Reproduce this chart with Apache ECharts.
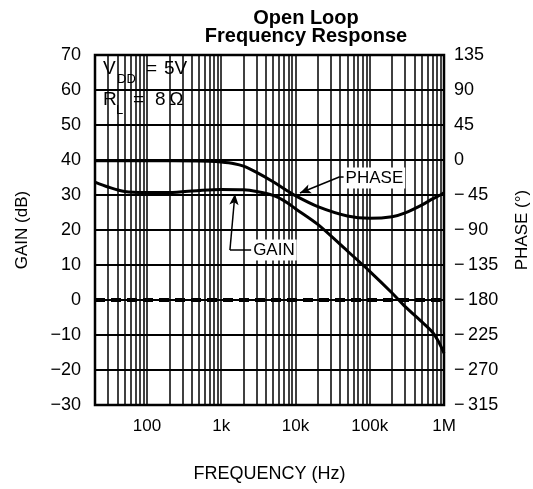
<!DOCTYPE html>
<html>
<head>
<meta charset="utf-8">
<script src="https://cdn.jsdelivr.net/npm/echarts@6/dist/echarts.min.js"></script>
<style>
  html, body { margin: 0; padding: 0; background: #fff; }
  #chart { width: 533px; height: 489px; }
</style>
</head>
<body>
<div id="chart"></div>
<script>
// gain curve (Hz / dB, left axis)
const gainFreqs = [20, 30, 50, 100, 200, 500, 1000, 2000, 3000, 5000, 7000, 10000, 20000, 50000, 100000, 200000, 300000, 500000, 700000, 850000, 1000000]
const gainDb = [33.7, 32.3, 31.0, 30.7, 30.7, 31.3, 31.6, 31.5, 31.0, 29.9, 28.4, 26.1, 21.6, 14.0, 8.2, 2.0, -1.9, -6.2, -9.2, -12.0, -15.2]
// phase curve (Hz / degrees, right axis)
const phaseFreqs = [20, 100, 500, 700, 1000, 1500, 2000, 3000, 5000, 7000, 10000, 20000, 50000, 100000, 200000, 300000, 500000, 700000, 850000, 1000000]
const phaseDeg = [-1, -1, -1.3, -1.6, -2.6, -4.8, -8, -16, -28, -37, -46, -60, -72, -75, -73, -68, -58, -50, -46, -42]

// vertical lines of the log paper
const gridFreqs = []
;[10, 100, 1000, 10000, 100000].forEach((d) => {
  for (let m = 1; m <= 9; m++) {
    const f = d * m
    if (f > 20 && f < 1000000) gridFreqs.push(f)
  }
})
const xTickLabels = { 100: '100', 1000: '1k', 10000: '10k', 100000: '100k', 1000000: '1M' }

const FONT = 'Liberation Sans'
const minusLeft = (v) => (v < 0 ? '\u2212' + -v : String(v))
const minusRight = (v) => (v < 0 ? '\u2212\u2009' + -v : String(v))

const chart = echarts.init(document.getElementById('chart'))

const annoLabel = {
  show: true,
  position: 'inside',
  fontFamily: FONT,
  fontSize: 17,
  color: '#000',
  backgroundColor: '#fff',
  padding: [2, 2]
}

const options = {
  animation: false,
  backgroundColor: '#fff',
  title: {
    text: 'Open Loop\nFrequency Response',
    left: 301,
    top: 4,
    textAlign: 'center',
    textStyle: {
      fontFamily: FONT,
      fontSize: 20,
      fontWeight: 'bold',
      lineHeight: 18,
      color: '#000'
    }
  },
  grid: {
    left: 95,
    right: 89,
    top: 55,
    bottom: 84,
    outerBoundsMode: 'none',
    containLabel: false,
    show: true,
    borderColor: '#000',
    borderWidth: 2.5,
    backgroundColor: 'transparent'
  },
  xAxis: {
    type: 'log',
    logBase: 10,
    min: 20,
    max: 1000000,
    name: 'FREQUENCY (Hz)',
    nameLocation: 'middle',
    nameGap: 60,
    nameTextStyle: { fontFamily: FONT, fontSize: 18, color: '#000' },
    axisLine: { show: false },
    axisTick: { show: false },
    splitLine: { show: false },
    axisLabel: {
      margin: 13,
      fontFamily: FONT,
      fontSize: 17,
      color: '#000',
      formatter: (v) => xTickLabels[Math.round(v)] || ''
    }
  },
  yAxis: [
    {
      type: 'value',
      min: -30,
      max: 70,
      interval: 10,
      name: 'GAIN (dB)',
      nameLocation: 'middle',
      nameGap: 64,
      nameRotate: 90,
      nameTextStyle: { fontFamily: FONT, fontSize: 17, color: '#000' },
      axisLine: { show: false },
      axisTick: { show: false },
      splitLine: { show: true, lineStyle: { color: '#000', width: 2 } },
      axisLabel: { margin: 14, fontFamily: FONT, fontSize: 18, color: '#000', formatter: minusLeft }
    },
    {
      type: 'value',
      min: -315,
      max: 135,
      interval: 45,
      position: 'right',
      name: 'PHASE (°)',
      nameLocation: 'middle',
      nameGap: 70,
      nameRotate: 90,
      nameTextStyle: { fontFamily: FONT, fontSize: 17, color: '#000' },
      axisLine: { show: false },
      axisTick: { show: false },
      splitLine: { show: false },
      axisLabel: { margin: 10, fontFamily: FONT, fontSize: 18, color: '#000', formatter: minusRight }
    }
  ],
  graphic: [
    {
      type: 'group',
      left: 97,
      top: 58,
      z: 10,
      children: [
        { type: 'rect', shape: { x: 0, y: 0, width: 104, height: 66 }, style: { fill: '#fff' } },
        { type: 'text', style: { text: 'V', x: 6, y: 20, fill: '#000', font: '19px ' + FONT, verticalAlign: 'bottom' } },
        { type: 'text', style: { text: 'DD', x: 20, y: 28, fill: '#000', font: '13px ' + FONT, verticalAlign: 'bottom' } },
        { type: 'text', style: { text: '=', x: 49, y: 20, fill: '#000', font: '19px ' + FONT, verticalAlign: 'bottom' } },
        { type: 'text', style: { text: '5V', x: 67, y: 20, fill: '#000', font: '19px ' + FONT, verticalAlign: 'bottom' } },
        { type: 'text', style: { text: 'R', x: 6, y: 51, fill: '#000', font: '19px ' + FONT, verticalAlign: 'bottom' } },
        { type: 'text', style: { text: 'L', x: 19, y: 59, fill: '#000', font: '13px ' + FONT, verticalAlign: 'bottom' } },
        { type: 'text', style: { text: '=', x: 36, y: 51, fill: '#000', font: '19px ' + FONT, verticalAlign: 'bottom' } },
        { type: 'text', style: { text: '8\u2009\u03A9', x: 58, y: 51, fill: '#000', font: '19px ' + FONT, verticalAlign: 'bottom' } }
      ]
    }
  ],
  series: [
    {
      name: 'paper',
      type: 'line',
      data: [],
      z: 1,
      silent: true,
      markLine: {
        silent: true,
        symbol: 'none',
        label: { show: false },
        lineStyle: { color: '#000', width: 1.5, type: 'solid' },
        data: gridFreqs.map((f) => ({ xAxis: f }))
      }
    },
    {
      name: 'GAIN',
      type: 'line',
      yAxisIndex: 0,
      z: 3,
      smooth: 0.3,
      showSymbol: false,
      data: gainFreqs.map((f, i) => [f, gainDb[i]]),
      lineStyle: { color: '#000', width: 3 },
      markLine: {
        silent: true,
        symbol: 'none',
        label: { show: false },
        lineStyle: { color: '#000', width: 1.5, type: 'solid' },
        data: [
          { yAxis: 0, lineStyle: { color: '#000', width: 4, type: [10, 6] } },
          [
            { coord: [2594, 14.3], symbol: 'none' },
            { coord: [1312, 14.3], symbol: 'none' }
          ],
          [
            { coord: [1312, 14.3], symbol: 'none' },
            { coord: [1531, 30.3], symbol: 'arrow', symbolSize: [7, 11] }
          ]
        ]
      },
      markPoint: {
        silent: true,
        symbolSize: 0,
        label: annoLabel,
        data: [{ coord: [5130, 14.3], value: 'GAIN', label: { formatter: 'GAIN' } }]
      }
    },
    {
      name: 'PHASE',
      type: 'line',
      yAxisIndex: 1,
      z: 3,
      smooth: 0.3,
      showSymbol: false,
      data: phaseFreqs.map((f, i) => [f, phaseDeg[i]]),
      lineStyle: { color: '#000', width: 3 },
      markLine: {
        silent: true,
        symbol: 'none',
        label: { show: false },
        lineStyle: { color: '#000', width: 1.5, type: 'solid' },
        data: [
          [
            { coord: [48800, -21.5], symbol: 'none' },
            { coord: [39600, -21.5], symbol: 'none' }
          ],
          [
            { coord: [39600, -21.5], symbol: 'none' },
            { coord: [11500, -42.4], symbol: 'arrow', symbolSize: [7, 11] }
          ]
        ]
      },
      markPoint: {
        silent: true,
        symbolSize: 0,
        label: annoLabel,
        data: [{ coord: [115600, -23.1], value: 'PHASE', label: { formatter: 'PHASE' } }]
      }
    }
  ]
}

chart.setOption(options)
</script>
</body>
</html>
